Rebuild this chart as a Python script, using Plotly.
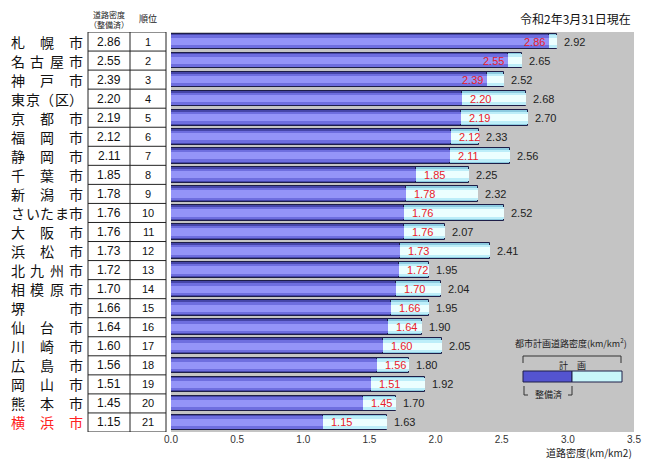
import plotly.graph_objects as go

# ---------------- data ----------------
cities = ["札幌市", "名古屋市", "神戸市", "東京（区）", "京都市", "福岡市", "静岡市",
          "千葉市", "新潟市", "さいたま市", "大阪市", "浜松市", "北九州市", "相模原市",
          "堺市", "仙台市", "川崎市", "広島市", "岡山市", "熊本市", "横浜市"]
seibi = [2.86, 2.55, 2.39, 2.20, 2.19, 2.12, 2.11, 1.85, 1.78, 1.76, 1.76,
         1.73, 1.72, 1.70, 1.66, 1.64, 1.60, 1.56, 1.51, 1.45, 1.15]
keikaku = [2.92, 2.65, 2.52, 2.68, 2.70, 2.33, 2.56, 2.25, 2.32, 2.52, 2.07,
           2.41, 1.95, 2.04, 1.95, 1.90, 2.05, 1.80, 1.92, 1.70, 1.63]
ranks = list(range(1, 22))
highlight_city = "横浜市"
x_ticks = [0.0, 0.5, 1.0, 1.5, 2.0, 2.5, 3.0, 3.5]

# ---------------- geometry helpers ----------------
W, H = 645, 461
ML, MR, MT, MB = 171, 11, 32, 29
PW = W - ML - MR
PH = H - MT - MB


def px(xpix):
    return (xpix - ML) / PW


def py(ypix):
    return (H - MB - ypix) / PH


rows = list(range(len(cities)))
JP = "Noto Sans CJK JP"
NUM = "Liberation Sans, Noto Sans CJK JP"

fig = go.Figure()

cyan_layers = [(0.82, "#8ccbe0", dict(color="#1e1e48", width=1)),
               (0.64, "#bdeef9", dict(width=0)),
               (0.38, "#ecffff", dict(width=0))]
blue_layers = [(0.82, "#4646a8", dict(color="#1e1e48", width=1)),
               (0.64, "#6e6edf", dict(width=0)),
               (0.38, "#9494f8", dict(width=0))]
for wdt, col, ln in cyan_layers:
    fig.add_trace(go.Bar(x=keikaku, y=rows, orientation="h", width=wdt,
                         marker=dict(color=col, line=ln), showlegend=False,
                         hoverinfo="skip"))
for wdt, col, ln in blue_layers:
    fig.add_trace(go.Bar(x=seibi, y=rows, orientation="h", width=wdt,
                         marker=dict(color=col, line=ln), showlegend=False,
                         hoverinfo="skip"))

annotations = []
shapes = []


def ann(x, y, text, size, color="#222222", family=JP, xref="paper", yref="paper",
        xanchor="center", xshift=0):
    annotations.append(dict(x=x, y=y, xref=xref, yref=yref, text=text, showarrow=False,
                            xanchor=xanchor, yanchor="middle", xshift=xshift,
                            font=dict(family=family, size=size, color=color)))


# value labels on the bars
for i in rows:
    inside = (keikaku[i] - seibi[i]) < 0.2
    ann(seibi[i], i, f"{seibi[i]:.2f}", 11, "#e8202a", NUM, xref="x", yref="y",
        xanchor="right" if inside else "left", xshift=-2 if inside else 6)
    ann(keikaku[i], i, f"{keikaku[i]:.2f}", 11, "#222222", NUM, xref="x", yref="y",
        xanchor="left", xshift=5)

# ---------------- left table ----------------
NAME_L, NAME_R = 18, 76
for i, name in enumerate(cities):
    chars = list(name)
    n = len(chars)
    col = "#ff2020" if name == highlight_city else "#111111"
    for k, ch in enumerate(chars):
        cx = NAME_L + (k * (NAME_R - NAME_L) / (n - 1) if n > 1 else 0)
        ann(px(cx), i, ch, 14, col, JP, yref="y")
    ann(px(109), i, f"{seibi[i]:.2f}", 12, "#111111", NUM, yref="y")
    ann(px(148), i, str(ranks[i]), 11, "#111111", NUM, yref="y")

n_rows = len(cities)
for xv in (88, 130, 166):
    shapes.append(dict(type="line", xref="paper", yref="y", x0=px(xv), x1=px(xv),
                       y0=-0.5, y1=n_rows - 0.5, line=dict(color="#222222", width=1)))
for b in range(n_rows + 1):
    shapes.append(dict(type="line", xref="paper", yref="y", x0=px(88), x1=px(166),
                       y0=b - 0.5, y1=b - 0.5, line=dict(color="#222222", width=1)))

# table header
ann(px(109), py(14), "道路密度", 8)
ann(px(109), py(25), "（整備済）", 8)
ann(px(148), py(18), "順位", 9)

# date note
ann(px(633), py(18), "令和2年3月31日現在", 12, "#111111", xanchor="right")

# axis title
annotations.append(dict(x=1.0, y=py(462), xref="paper", yref="paper",
                        text="道路密度(km/km2)", xanchor="right", yanchor="bottom",
                        showarrow=False, font=dict(family=JP, size=10, color="#222")))

# ---------------- legend (drawn) ----------------
ann(px(571), py(343), "都市計画道路密度(km/km<sup>2</sup>)", 9)
lc = "#333333"


def seg(x0, y0, x1, y1):
    shapes.append(dict(type="line", xref="paper", yref="paper", x0=px(x0), x1=px(x1),
                       y0=py(y0), y1=py(y1), line=dict(color=lc, width=1)))


seg(523, 356, 621, 356)
seg(523, 356, 523, 363)
seg(621, 356, 621, 363)
ann(px(572), py(365), "計　画", 9)
shapes += [
    dict(type="rect", xref="paper", yref="paper", x0=px(523), x1=px(572), y0=py(382), y1=py(371),
         fillcolor="#5454d0", line=dict(color="#1e1e48", width=1)),
    dict(type="rect", xref="paper", yref="paper", x0=px(572), x1=px(622), y0=py(382), y1=py(371),
         fillcolor="#c8f6fa", line=dict(color="#1e1e48", width=1)),
]
seg(524, 386, 524, 395)
seg(524, 395, 528, 395)
seg(572, 386, 572, 395)
seg(568, 395, 572, 395)
ann(px(548), py(394), "整備済", 9)

fig.update_layout(
    width=W, height=H,
    margin=dict(l=ML, r=MR, t=MT, b=MB, pad=0, autoexpand=False),
    paper_bgcolor="white", plot_bgcolor="#c4c4c4",
    barmode="overlay", bargap=0,
    showlegend=False,
    xaxis=dict(range=[0, 3.5], tickvals=x_ticks, ticktext=[f"{t:.1f}" for t in x_ticks],
               showgrid=False, zeroline=False, showline=False, ticks="", automargin=False,
               tickfont=dict(family=NUM, size=10, color="#333333"), fixedrange=True),
    yaxis=dict(range=[n_rows - 0.5, -0.5], showticklabels=False, showgrid=False,
               automargin=False,
               zeroline=False, showline=False, ticks="", fixedrange=True),
    annotations=annotations,
    shapes=shapes,
)

fig.write_html("out.html", config={"displayModeBar": False},
               post_script="document.body.style.margin='0';document.body.style.overflow='hidden';")
